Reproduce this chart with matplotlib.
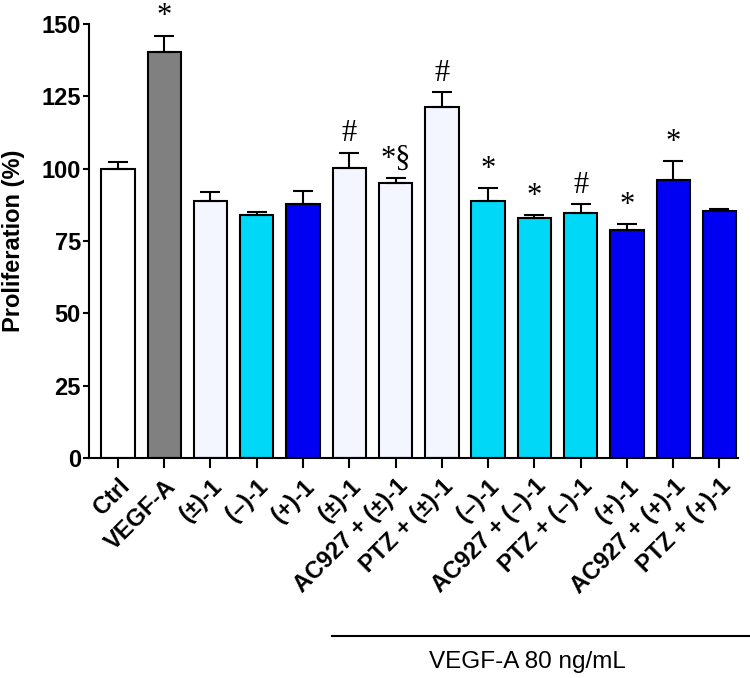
import matplotlib.pyplot as plt
from matplotlib.lines import Line2D

plt.rcParams['font.family'] = ['Liberation Sans', 'DejaVu Sans']

labels = ['Ctrl', 'VEGF-A', '(±)-1', '(–)-1', '(+)-1', '(±)-1', 'AC927 + (±)-1',
          'PTZ + (±)-1', '(–)-1', 'AC927 + (–)-1', 'PTZ + (–)-1', '(+)-1',
          'AC927 + (+)-1', 'PTZ + (+)-1']
means = [100.0, 140.3, 88.8, 84.0, 87.8, 100.4, 94.9, 121.2, 88.8, 82.9, 84.7, 78.7, 96.1, 85.5]
errors = [2.4, 5.7, 3.0, 1.0, 4.6, 5.2, 1.9, 5.4, 4.6, 1.1, 3.1, 2.2, 6.6, 0.7]
marks = ['', '*', '', '', '', '#', '*§', '#', '*', '*', '#', '*', '*', '']
colors = ['white', '#808080', '#f4f6ff', '#00d8f8', '#0000f2', '#f4f6ff', '#f4f6ff',
          '#f4f6ff', '#00d8f8', '#00d8f8', '#00d8f8', '#0000f2', '#0000f2', '#0000f2']

fig = plt.figure(figsize=(7.5, 6.78), dpi=100)
ax = fig.add_axes([0.119, 0.3245, 0.865, 0.64])

x = range(len(labels))
ax.bar(x, means, width=0.72, color=colors, edgecolor='black', linewidth=1.5)
ax.errorbar(x, means, yerr=[[0] * len(errors), errors], fmt='none', ecolor='black',
            elinewidth=1.5, capsize=7, capthick=1.5)

for i, m in enumerate(marks):
    if m:
        ax.annotate(m, (i, means[i] + errors[i]), xytext=(0, 3), textcoords='offset points',
                    ha='center', va='bottom', fontsize=22, family='Liberation Serif')

ax.set_xlim(-0.62, 13.4)
ax.set_ylim(0, 150)
ax.set_yticks([0, 25, 50, 75, 100, 125, 150])
ax.set_xticks(list(x))
ax.set_xticklabels(labels, rotation=45, ha='right', rotation_mode='anchor',
                   fontsize=17, fontweight='bold')
for t in ax.get_yticklabels():
    t.set_fontweight('bold')
ax.tick_params(axis='y', labelsize=17, width=1.5, length=4, pad=2)
ax.tick_params(axis='x', width=1.5, length=7, pad=5)
ax.set_ylabel('Proliferation (%)', fontsize=17, fontweight='bold', labelpad=12)
for s in ['top', 'right']:
    ax.spines[s].set_visible(False)
for s in ['left', 'bottom']:
    ax.spines[s].set_linewidth(1.5)

fig.add_artist(Line2D([0.443, 1.0], [1 - 636 / 678, 1 - 636 / 678], color='black', linewidth=1.5))
fig.text(0.703, 1 - 662 / 678, 'VEGF-A 80 ng/mL', ha='center', va='center', fontsize=17.5)

fig.savefig('out.png', dpi=100)
